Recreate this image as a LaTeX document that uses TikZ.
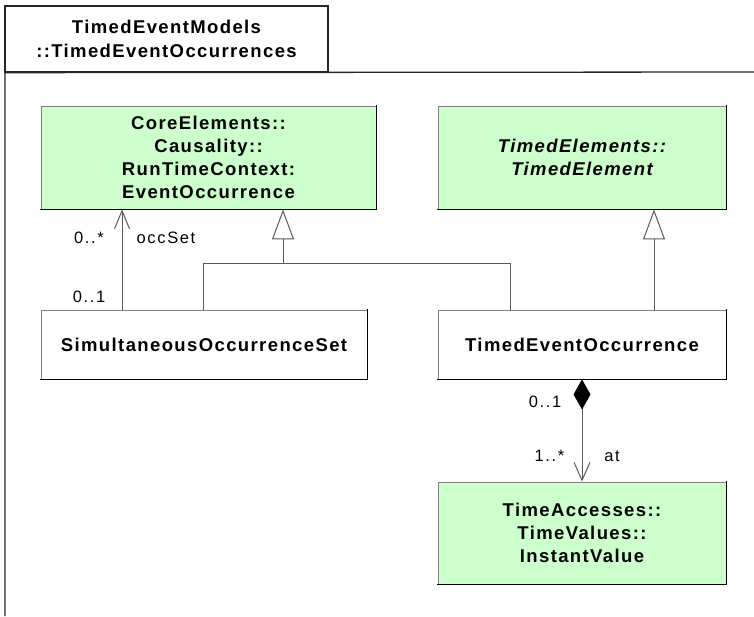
\documentclass[tikz,border=0pt]{standalone}
\usepackage{fontspec}
\setmainfont{Liberation Sans}
\newfontfamily\boxfont{Liberation Sans}[LetterSpace=7.5]
\newfontfamily\lblfont{Liberation Sans}[LetterSpace=10]
\usetikzlibrary{arrows.meta}
\definecolor{boxgreen}{HTML}{CCFFCC}
\definecolor{linegray}{HTML}{5A5A5A}
\definecolor{edgegray}{HTML}{808080}
\tikzset{
  cls/.style={rectangle, draw=edgegray, line width=0.9pt, inner sep=0pt,
    align=center, font=\boxfont\fontsize{18.5}{23}\selectfont\bfseries},
  greencls/.style={cls, fill=boxgreen},
  lbl/.style={font=\lblfont\fontsize{16.5}{18}\selectfont, inner sep=0pt, anchor=base},
  conn/.style={draw=linegray, line width=1pt},
  assoc/.style={conn, -{Straight Barb[length=18pt,width=15pt,line width=1pt]}},
  gen/.style={conn, -{Triangle[open,length=30pt,width=22pt,fill=white,line width=1pt]}},
  comp/.style={conn, {Diamond[length=30pt,width=17pt,fill=black,line width=1pt,color=black]}-{Straight Barb[length=18pt,width=16pt,line width=1pt]}},
  frame/.style={draw=black!85, line width=1.3pt}
}
\begin{document}
\begin{tikzpicture}[x=1pt,y=-1pt]
\useasboundingbox (0,0) rectangle (754,616);
\fill[white] (0,0) rectangle (754,616);
% package frame
\node[draw=black!85, line width=1.3pt, minimum width=323pt, minimum height=66pt, inner sep=0pt,
      align=center, font=\boxfont\fontsize{18.5}{24}\selectfont\bfseries] (tab) at (166.5,39)
      {TimedEventModels\\::TimedEventOccurrences};
\coordinate (pkgbl) at (5,616);
\coordinate (pkgtr) at (754,72);
\draw[frame] (pkgbl) -- (pkgbl |- tab.south) -- (pkgtr);

% classes
\node[greencls, minimum width=335pt, minimum height=103pt] (core) at (208.5,157.5)
  {CoreElements::\\Causality::\\RunTimeContext:\\EventOccurrence};
\node[greencls, minimum width=288pt, minimum height=103pt] (te) at (582,157.5)
  {\itshape TimedElements::\\\itshape TimedElement};
\node[cls, fill=white, minimum width=326pt, minimum height=69pt] (sim) at (204,344.5)
  {SimultaneousOccurrenceSet};
\node[cls, fill=white, minimum width=288pt, minimum height=69pt] (teo) at (582,344.5)
  {TimedEventOccurrence};
\node[greencls, minimum width=288pt, minimum height=102pt] (iv) at (582,533)
  {TimeAccesses::\\TimeValues::\\InstantValue};
\foreach \n in {core,te,sim,teo,iv}
  \draw[black, line width=1.8pt, line cap=rect] (\n.north east) -- (\n.south east) -- (\n.south west);

% connector coordinates
\coordinate (occx) at (122,0);
\coordinate (g1) at (203,263);
\coordinate (g2) at (510,263);
\coordinate (g3) at (283,263);
\coordinate (g4) at (654,0);

% association occSet
\draw[assoc] (occx |- sim.north) -- (occx |- core.south);
\node[lbl] (m1) at (89,243) {0..*};
\node[lbl] (r1) at (166,243) {occSet};
\node[lbl] (m2) at (89,302) {0..1};

% generalization to EventOccurrence
\draw[conn] (g1 |- sim.north) -- (g1) -- (g2) -- (g2 |- teo.north);
\draw[gen] (g3) -- (g3 |- core.south);

% generalization to TimedElement
\draw[gen] (g4 |- teo.north) -- (g4 |- te.south);

% composition
\draw[comp] (teo.south) -- (iv.north);
\node[lbl] (m3) at (545,407) {0..1};
\node[lbl] (m4) at (549.5,461) {1..*};
\node[lbl] (r2) at (612,461) {at};
\end{tikzpicture}
\end{document}
